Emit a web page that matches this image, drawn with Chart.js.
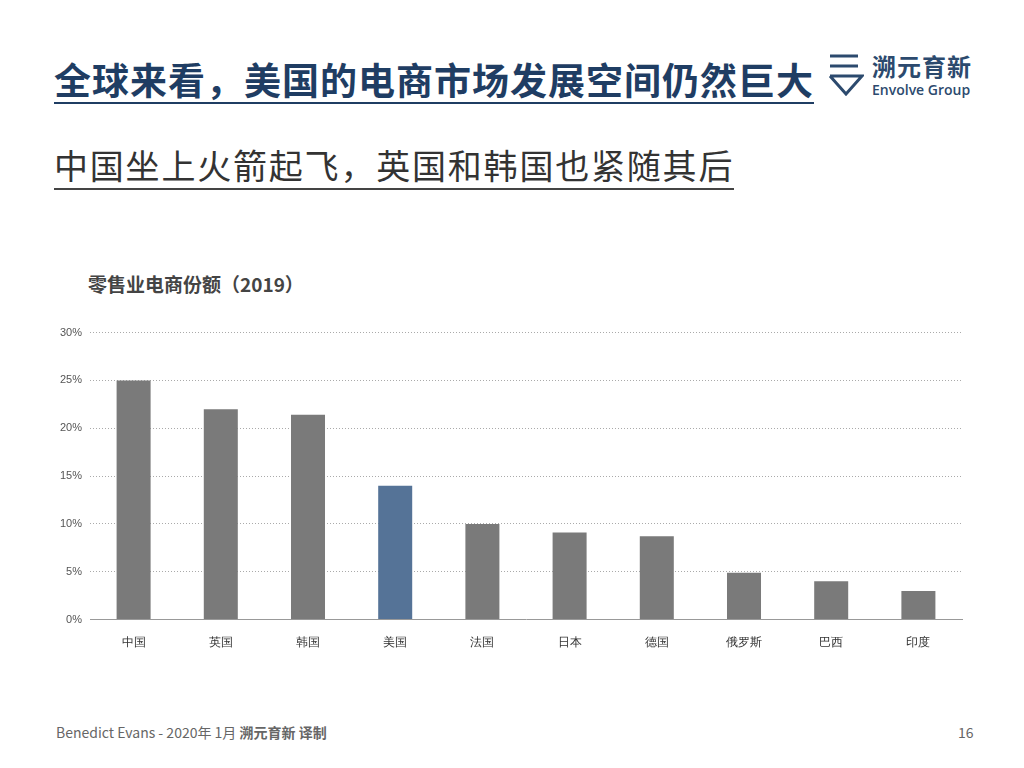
<!DOCTYPE html>
<html>
<head>
<meta charset="utf-8">
<script src="https://cdn.jsdelivr.net/npm/chart.js@4"></script>
<style>
  body { margin:0; width:1024px; height:768px; background:#fff; position:relative; overflow:hidden;
         font-family:"Noto Sans CJK SC","Noto Sans",sans-serif; }
  .title { position:absolute; left:54px; top:56px; font-size:37px; font-weight:bold; color:#1f3d63;
           border-bottom:2px solid #1f3d63; padding-bottom:0; line-height:46px; letter-spacing:1px; }
  .sub { position:absolute; left:54px; top:142px; font-size:34px; color:#333;
         border-bottom:2px solid #444; line-height:46px; padding-bottom:0; letter-spacing:1.8px; }
  .ctitle { position:absolute; left:88px; top:270px; font-size:19px; font-weight:bold; color:#444; }
  .logo { position:absolute; left:828px; top:52px; color:#2c4a6e; }
  .logo .cn { position:absolute; left:44px; top:-4px; font-size:24px; font-weight:bold; letter-spacing:1px; white-space:nowrap; }
  .logo .en { position:absolute; left:44px; top:28px; font-size:14px; font-family:"Open Sans",sans-serif; font-weight:600; white-space:nowrap; }
  .foot { position:absolute; left:56px; top:722px; font-size:14px; color:#666; }
  .page { position:absolute; left:958px; top:722px; font-size:14px; color:#666; }
  #wrap { position:absolute; left:50px; top:318px; width:920px; height:340px; }
</style>
</head>
<body>
<div class="title">全球来看，美国的电商市场发展空间仍然巨大</div>
<div class="logo">
  <svg width="36" height="46" viewBox="0 0 36 46"><path d="M2 4 H30 M2 14 H30 M2 24 H34 L18 42 L2 24" fill="none" stroke="#2c4a6e" stroke-width="3"/></svg>
  <span class="cn">溯元育新</span><span class="en">Envolve Group</span>
</div>
<div class="sub">中国坐上火箭起飞，英国和韩国也紧随其后</div>
<div class="ctitle">零售业电商份额（2019）</div>
<div id="wrap"><canvas id="c"></canvas></div>
<div class="foot">Benedict Evans - 2020年 1月 <b>溯元育新 译制</b></div>
<div class="page">16</div>
<script>
var countries = ['中国','英国','韩国','美国','法国','日本','德国','俄罗斯','巴西','印度'];
var shares = [25, 22, 21.4, 14, 10, 9.1, 8.7, 4.9, 4.0, 3.0];
var barColors = countries.map(function(c){ return c == '美国' ? '#557397' : '#7a7a7a'; });

new Chart(document.getElementById('c'), {
  type: 'bar',
  data: { labels: countries, datasets: [{ data: shares, backgroundColor: barColors,
          barPercentage: 0.39, categoryPercentage: 1 }] },
  options: {
    responsive: true, maintainAspectRatio: false, animation: false,
    layout: { padding: { top: 9, right: 8 } },
    plugins: { legend: { display: false }, tooltip: { enabled: false } },
    scales: {
      x: { grid: { display: false }, border: { color: '#999' },
           ticks: { color: '#333', font: { size: 12 }, padding: 8 } },
      y: { min: 0, max: 30,
           afterFit: function(s){ s.width = 40; },
           ticks: { stepSize: 5, color: '#555', font: { size: 11 }, padding: 8, callback: function(v){ return v + '%'; } },
           grid: { color: '#aaa', lineWidth: 1, drawTicks: false }, border: { display: false, dash: [1, 2] } }
    }
  }
});
</script>
</body>
</html>
